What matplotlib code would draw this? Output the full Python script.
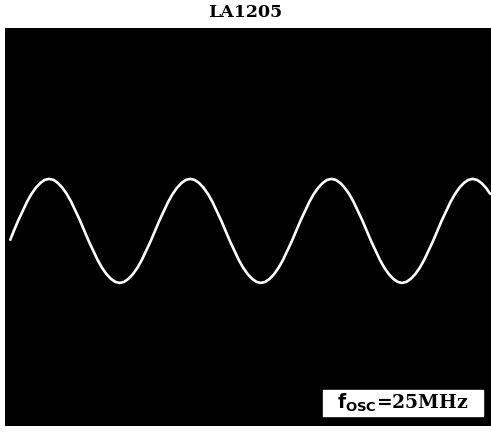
import numpy as np
import matplotlib.pyplot as plt
from matplotlib.patches import Rectangle

# oscilloscope trace, LA1205 oscillator output (time in ns, level in arbitrary units)
t_ns = [1.5] + list(np.arange(2.5, 138.0, 1.25))
level = [-0.17,
         0.00, 0.20, 0.38, 0.56, 0.71, 0.83, 0.92, 0.98, 1.00, 0.98, 0.92, 0.83, 0.71, 0.56, 0.38, 0.20,
         0.00, -0.20, -0.38, -0.56, -0.71, -0.83, -0.92, -0.98, -1.00, -0.98, -0.92, -0.83, -0.71, -0.56, -0.38, -0.20,
         0.00, 0.20, 0.38, 0.56, 0.71, 0.83, 0.92, 0.98, 1.00, 0.98, 0.92, 0.83, 0.71, 0.56, 0.38, 0.20,
         0.00, -0.20, -0.38, -0.56, -0.71, -0.83, -0.92, -0.98, -1.00, -0.98, -0.92, -0.83, -0.71, -0.56, -0.38, -0.20,
         0.00, 0.20, 0.38, 0.56, 0.71, 0.83, 0.92, 0.98, 1.00, 0.98, 0.92, 0.83, 0.71, 0.56, 0.38, 0.20,
         0.00, -0.20, -0.38, -0.56, -0.71, -0.83, -0.92, -0.98, -1.00, -0.98, -0.92, -0.83, -0.71, -0.56, -0.38, -0.20,
         0.00, 0.20, 0.38, 0.56, 0.71, 0.83, 0.92, 0.98, 1.00, 0.98, 0.92, 0.83, 0.71]

title = 'LA1205'
label = r'$\mathbf{f}_{\mathbf{OSC}}$=25MHz'

fig = plt.figure(figsize=(4.91, 4.32), dpi=100)
ax = fig.add_axes([5 / 491, 6 / 432, 486 / 491, 398 / 432])
ax.set_facecolor('black')
ax.plot(t_ns, level, color='white', lw=1.9, solid_joinstyle='round',
        solid_capstyle='round')
ax.set_xlim(0, 137.7)
ax.set_ylim(-3.75, 3.9)
ax.set_xticks([])
ax.set_yticks([])
for s in ax.spines.values():
    s.set_visible(False)

fig.text(0.5, 0.972, title, ha='center', va='center', fontsize=12.5,
         fontweight='bold', family='DejaVu Serif')

# label box in the lower right corner of the screen
fig.patches.append(Rectangle((323 / 491, 16 / 432), 160 / 491, 26 / 432,
                             transform=fig.transFigure, fc='white', ec='white',
                             zorder=5))
fig.text(403 / 491, 29 / 432, label, ha='center', va='center',
         fontsize=13.5, fontweight='bold', family='DejaVu Serif', zorder=6)

fig.savefig('out.png', dpi=100)
